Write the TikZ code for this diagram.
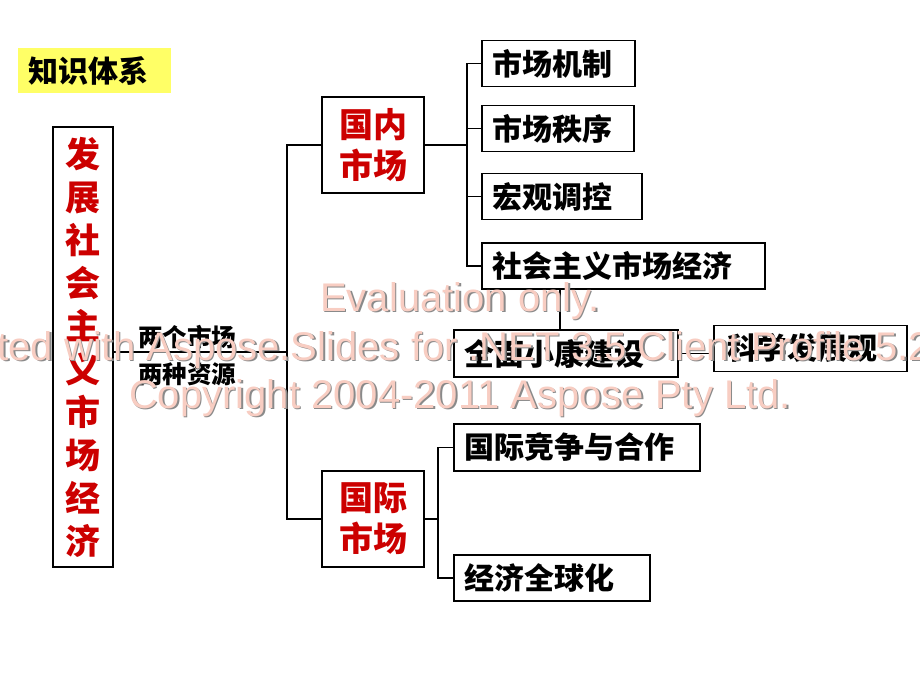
\documentclass[tikz,border=0pt]{standalone}
\usepackage{fontspec}
\setmainfont{Liberation Sans}
\newfontfamily\cjk{Noto Sans CJK SC}
\definecolor{hred}{HTML}{CC0000}
\definecolor{wmpink}{HTML}{F8CDC2}
\definecolor{wmshadow}{HTML}{8A8A8A}
\definecolor{hyellow}{HTML}{FFFF66}
\begin{document}
\begin{tikzpicture}[x=1pt,y=-1pt,
  leaf/.style={draw=black, line width=1.6pt, anchor=west, inner xsep=11pt, inner ysep=0pt,
    minimum height=46pt, font=\cjk\bfseries\fontsize{30}{32}\selectfont, align=left},
  market/.style={draw=black, line width=2.4pt, minimum width=102pt, minimum height=96pt,
    font=\cjk\bfseries\fontsize{34}{41}\selectfont, text=hred, align=center, inner sep=0pt},
  conn/.style={line width=1.6pt, draw=black},
  lab/.style={font=\cjk\bfseries\fontsize{24.5}{26}\selectfont, inner sep=0pt},
  wm/.style={font=\fontsize{40}{48}\selectfont, anchor=base, inner sep=0pt, text=wmpink},
  wms/.style={font=\fontsize{40}{48}\selectfont, anchor=base, inner sep=0pt, text=wmshadow}
]
\useasboundingbox (0,0) rectangle (920,690);
\fill[white] (0,0) rectangle (920,690);

% title
\node[fill=hyellow, anchor=west, inner xsep=10pt, inner ysep=0pt, minimum height=45pt,
  text width=133pt, align=left, font=\cjk\bfseries\fontsize{30}{32}\selectfont] (title) at (18,70.5) {知识体系};

% left vertical box
\node[draw=black, line width=2.4pt, minimum width=60pt, minimum height=440pt, inner sep=0pt,
  align=center, text=hred, font=\cjk\bfseries\fontsize{35}{43}\selectfont] (lb) at (83,347)
  {发\\展\\社\\会\\主\\义\\市\\场\\经\\济};

% market boxes
\node[market] (gn) at (373,145) {国内\\市场};
\node[market] (gj) at (373,519) {国际\\市场};

% leaves
\node[leaf, text width=131pt] (c1) at (481,63.5) {市场机制};
\node[leaf, text width=130pt] (c2) at (481,128.5) {市场秩序};
\node[leaf, text width=138pt] (c3) at (481,196.5) {宏观调控};
\node[leaf, text width=261pt] (c4) at (481,266) {社会主义市场经济};
\node[leaf, text width=202pt, minimum height=47pt] (qm) at (453,353.5) {全面小康建设};
\node[leaf, text width=165pt, inner xsep=14pt] (kx) at (713,348.5) {科学发展观};
\node[leaf, text width=224pt, minimum height=47pt] (i1) at (453,447.5) {国际竞争与合作};
\node[leaf, text width=174pt] (i2) at (453,578) {经济全球化};

% labels
\node[lab] (l1) at (187,337) {两个市场};
\node[lab] (l2) at (187,374) {两种资源};

% connectors
\coordinate (b0) at (287,0);
\coordinate (b1) at (467,0);
\coordinate (b2) at (438,0);
\coordinate (v) at (560,0);
\draw[conn] ([yshift=-5pt]lb.east) -- ([yshift=-5pt]lb.east -| b0);
\draw[conn] (gn.west) -- (gn.west -| b0) -- (gj.west -| b0) -- (gj.west);
\draw[conn] (gn.east) -- (gn.east -| b1);
\draw[conn] (c1.west) -- (c1.west -| b1) -- (c4.west -| b1) -- (c4.west);
\draw[conn] (c2.west) -- (c2.west -| b1);
\draw[conn] (c3.west) -- (c3.west -| b1);
\draw[conn] (gj.east) -- (gj.east -| b2);
\draw[conn] (i1.west) -- (i1.west -| b2) -- (i2.west -| b2) -- (i2.west);
\draw[conn] (c4.south -| v) -- (qm.north -| v);
\draw[conn] (qm.east) -- (qm.east -| kx.west);

% watermark
\node[wms] (w1s) at (461.5,312.5) {Evaluation only.};
\node[wms] (w2s) at (461.5,361.5) {Created with Aspose.Slides for .NET 3.5 Client Profile 5.2.0.0.};
\node[wms] (w3s) at (461.5,409.5) {Copyright 2004-2011 Aspose Pty Ltd.};
\node[wm] (w1) at (460,311) {Evaluation only.};
\node[wm] (w2) at (460,360) {Created with Aspose.Slides for .NET 3.5 Client Profile 5.2.0.0.};
\node[wm] (w3) at (460,408) {Copyright 2004-2011 Aspose Pty Ltd.};
\end{tikzpicture}
\end{document}
